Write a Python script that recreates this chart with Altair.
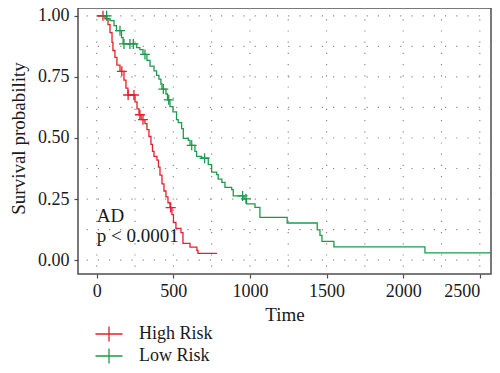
import altair as alt
import pandas as pd

# ---------------- data ----------------
red_time = [0, 54, 74, 87, 100, 106, 119, 132, 152, 178, 191, 204, 250, 263, 276, 290,
            315, 328, 341, 354, 364, 374, 393, 403, 413, 426, 439, 452, 465, 478, 491,
            501, 517, 550, 563, 609, 654, 661, 785]
red_surv = [1.0, 0.988, 0.964, 0.931, 0.891, 0.858, 0.830, 0.798, 0.773, 0.737, 0.704,
            0.676, 0.648, 0.619, 0.595, 0.575, 0.559, 0.534, 0.506, 0.474, 0.445, 0.425,
            0.409, 0.381, 0.348, 0.312, 0.283, 0.259, 0.235, 0.215, 0.186, 0.154, 0.130,
            0.113, 0.069, 0.053, 0.040, 0.028, 0.028]
red_cens_time = [41, 164, 205, 243, 282, 302, 483]
red_cens_surv = [1.0, 0.773, 0.676, 0.676, 0.595, 0.575, 0.215]

green_time = [0, 67, 87, 113, 129, 162, 172, 261, 282, 302, 328, 348, 374, 391, 406, 419,
              426, 452, 462, 478, 498, 521, 532, 554, 565, 598, 609, 641, 652, 685, 728,
              750, 783, 793, 817, 837, 881, 891, 961, 978, 1033, 1065, 1243, 1439, 1457,
              1470, 1548, 2142, 2619]
green_surv = [1.0, 0.988, 0.980, 0.960, 0.939, 0.911, 0.885, 0.870, 0.862, 0.842, 0.818,
              0.794, 0.775, 0.756, 0.741, 0.721, 0.700, 0.680, 0.656, 0.628, 0.607, 0.575,
              0.563, 0.538, 0.498, 0.490, 0.470, 0.445, 0.425, 0.417, 0.391, 0.360, 0.350,
              0.332, 0.318, 0.298, 0.289, 0.263, 0.251, 0.230, 0.216, 0.175, 0.152, 0.124,
              0.101, 0.077, 0.054, 0.030, 0.030]
green_cens_time = [65, 152, 178, 217, 239, 315, 435, 470, 620, 704, 952, 974]
green_cens_surv = [1.0, 0.939, 0.885, 0.885, 0.885, 0.842, 0.700, 0.656, 0.470, 0.417,
                   0.263, 0.251]

groups = ["High Risk", "Low Risk"]
colors = ["#E3202B", "#1F9A4C"]

x_ticks = [0, 500, 1000, 1500, 2000, 2500]
x_minor = [250, 750, 1250, 1750, 2250]
y_ticks = [0.0, 0.25, 0.5, 0.75, 1.0]
y_minor = [0.125, 0.375, 0.625, 0.875]

annot_text = ["AD", "p < 0.0001"]
annot_time = [0, 0]
annot_surv = [0.155, 0.074]

# ---------------- tables ----------------
curves = pd.DataFrame(
    [{"time": t, "surv": s, "group": groups[0]} for t, s in zip(red_time, red_surv)]
    + [{"time": t, "surv": s, "group": groups[1]} for t, s in zip(green_time, green_surv)]
)
cens = pd.DataFrame(
    [{"time": t, "surv": s, "group": groups[0]} for t, s in zip(red_cens_time, red_cens_surv)]
    + [{"time": t, "surv": s, "group": groups[1]} for t, s in zip(green_cens_time, green_cens_surv)]
)
xgrid = pd.DataFrame({"time": x_ticks + x_minor})
ygrid = pd.DataFrame({"surv": y_ticks + y_minor})
annot = pd.DataFrame({"label": annot_text, "time": annot_time, "surv": annot_surv})

FONT = "Liberation Serif"
# plot area: 413 px wide, 266 px tall
xscale = alt.Scale(domain=[-122, 2573], nice=False, zero=False)
yscale = alt.Scale(domain=[-0.0567, 1.032], nice=False, zero=False)
cscale = alt.Scale(domain=groups, range=colors)
PLUS = "M-1,0H1M0,-1V1"
LEG_PLUS = "M-1.5,0H1.5M0,-0.83V0.83"

grid_style = dict(color="#8c8c8c", strokeWidth=1.2, strokeDash=[1.2, 10])

x_enc = alt.X("time:Q", scale=xscale,
              axis=alt.Axis(values=x_ticks, format="d", title="Time", labelPadding=4,
                            titlePadding=5, labelFlush=15))
y_enc = alt.Y("surv:Q", scale=yscale,
              axis=alt.Axis(values=y_ticks, format=".2f", title="Survival probability",
                            labelPadding=5, titleX=-54, titleY=130,
                            titleBaseline="alphabetic"))

vgrid = alt.Chart(xgrid).mark_rule(**grid_style).encode(x=x_enc)
hgrid = alt.Chart(ygrid).mark_rule(**grid_style).encode(y=y_enc)

lines = alt.Chart(curves).mark_line(
    interpolate="step-after", strokeWidth=1.3, clip=True
).encode(
    x=alt.X("time:Q", scale=xscale),
    y=alt.Y("surv:Q", scale=yscale),
    color=alt.Color("group:N", scale=cscale,
                    legend=alt.Legend(title=None, orient="none", legendX=21, legendY=316,
                                      direction="vertical", symbolType=LEG_PLUS,
                                      symbolSize=324, symbolStrokeWidth=1.3,
                                      labelFont=FONT, labelFontSize=18,
                                      labelColor="#1a1a1a", labelOffset=20,
                                      rowPadding=0)),
)

points = alt.Chart(cens).mark_point(
    shape=PLUS, size=100, filled=False, strokeWidth=1.3, opacity=1
).encode(
    x=alt.X("time:Q", scale=xscale),
    y=alt.Y("surv:Q", scale=yscale),
    color=alt.Color("group:N", scale=cscale),
)

texts = alt.Chart(annot).mark_text(
    align="left", baseline="alphabetic", font=FONT, fontSize=19, color="#1a1a1a"
).encode(
    x=alt.X("time:Q", scale=xscale),
    y=alt.Y("surv:Q", scale=yscale),
    text="label:N",
)

chart = alt.layer(vgrid, hgrid, lines, points, texts).properties(
    width=413, height=266,
    autosize=alt.AutoSizeParams(type="none"),
    padding={"left": 70, "top": 0, "right": 1, "bottom": 91},
).configure_view(
    stroke="#4d4d4d", strokeWidth=1.5
).configure_axis(
    grid=False, domain=False,
    labelFont=FONT, labelFontSize=18, labelColor="#1a1a1a",
    titleFont=FONT, titleFontSize=19, titleFontWeight="normal", titleColor="#1a1a1a",
    tickColor="#4d4d4d", tickSize=4, tickWidth=1.2,
)

chart.save("out.html", embed_options={"renderer": "svg", "actions": False})
